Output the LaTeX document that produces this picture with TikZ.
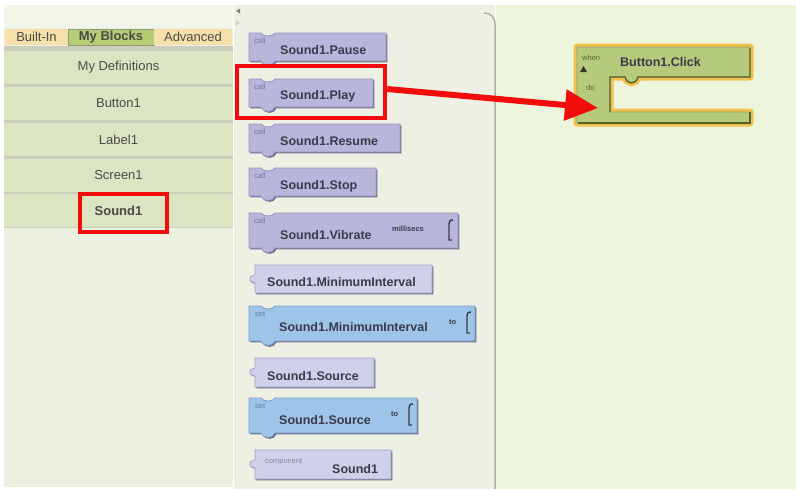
\documentclass[tikz,border=0pt]{standalone}
\usepackage{fontspec}
\setmainfont{Liberation Sans}
\usepackage{tikz}
\usetikzlibrary{arrows.meta}

\definecolor{panelbg}{HTML}{ECF0E1}
\definecolor{panelTop}{HTML}{F2F5EA}
\definecolor{midbg}{HTML}{EDF0E2}
\definecolor{rightbg}{HTML}{EEF5DD}
\definecolor{rowfill}{HTML}{DCE5C1}
\definecolor{rowline}{HTML}{CACEBA}
\definecolor{tabpeach}{HTML}{F5E0AA}
\definecolor{tabgreen}{HTML}{B5CE74}
\definecolor{tabedge}{HTML}{8E9A74}
\definecolor{paneltext}{HTML}{4A4A4A}
\definecolor{callfill}{HTML}{B9B6DC}
\definecolor{callline}{HTML}{9794BE}
\definecolor{calltext}{HTML}{77759C}
\definecolor{getfill}{HTML}{CFD0EA}
\definecolor{getline}{HTML}{A3A4C8}
\definecolor{setfill}{HTML}{9EC4EA}
\definecolor{setline}{HTML}{7A9FC6}
\definecolor{settext}{HTML}{5E82AA}
\definecolor{blkshade}{HTML}{6E6D8C}
\definecolor{blktext}{HTML}{3A3A48}
\definecolor{eventfill}{HTML}{B6CA7B}
\definecolor{eventline}{HTML}{55642D}
\definecolor{glow}{HTML}{F2C14D}
\definecolor{markred}{HTML}{F20C0C}
\definecolor{panelline}{HTML}{AEB2A0}

\newcommand{\stmtshape}[4]{(#1,#2) -- (#1+12,#2) .. controls (#1+14,#2+4) and (#1+24,#2+4) .. (#1+26,#2) -- (#1+#3,#2) -- (#1+#3,#2+#4) -- (#1+26,#2+#4) .. controls (#1+24,#2+#4+6) and (#1+14,#2+#4+6) .. (#1+12,#2+#4) -- (#1,#2+#4) -- cycle}
\newcommand{\getshape}[4]{(#1+6,#2) -- (#1+#3,#2) -- (#1+#3,#2+#4) -- (#1+6,#2+#4) -- (#1+6,#2+18) -- (#1+1,#2+16) -- (#1+1,#2+12) -- (#1+6,#2+10) -- cycle}
\newcommand{\stmtblock}[5]{%
  \fill[blkshadow] \stmtshape{#2}{#3}{#4}{#5};
  \filldraw[#1] \stmtshape{#2}{#3}{#4}{#5};}
\newcommand{\getblock}[4]{%
  \fill[blkshadow] \getshape{#1}{#2}{#3}{#4};
  \filldraw[getblk] \getshape{#1}{#2}{#3}{#4};}
\newcommand{\socket}[3]{\draw[socketline] (#1+4,#2-1) .. controls (#1+1,#2-1) .. (#1,#2+3) -- (#1,#2+#3) -- (#1+3,#2+#3);}

\tikzset{
  callblk/.style={fill=callfill,draw=callline,line width=0.8pt},
  setblk/.style={fill=setfill,draw=setline,line width=0.8pt},
  getblk/.style={fill=getfill,draw=getline,line width=0.8pt},
  blkshadow/.style={fill=blkshade,shift={(1.4,1.4)}},
  socketline/.style={draw=blktext,line width=1.4pt},
  blkname/.style={anchor=west,inner sep=0,text=blktext,font=\bfseries\fontsize{12.5}{14}\selectfont},
  smalllbl/.style={anchor=west,inner sep=0,font=\fontsize{7.5}{8}\selectfont},
  tab/.style={minimum height=16,inner sep=0,text=paneltext,font=\fontsize{13}{14}\selectfont},
  rowbox/.style={fill=rowfill,minimum width=229,minimum height=33,inner sep=0,text=paneltext,font=\fontsize{13}{15}\selectfont},
  markbox/.style={draw=markred,line width=4.5pt,inner sep=0},
  markarrow/.style={draw=markred,line width=6pt,-{Triangle[length=33pt,width=30pt]}}
}

\begin{document}
\begin{tikzpicture}[x=1pt,y=-1pt]
\fill[white] (0,0) rectangle (796,489);
\fill[panelbg] (4,5) rectangle (233,487);
\fill[panelTop] (4,5) rectangle (233,28);
\fill[midbg] (234,5) rectangle (495,489);
\fill[rightbg] (496,5) rectangle (796,489);

\node[tab,fill=tabpeach,minimum width=63] (builtin) at (36.5,37) {Built-In};
\node[tab,fill=tabgreen,draw=tabedge,minimum width=86,font=\bfseries\fontsize{13}{14}\selectfont] (myblocks) at (111,37) {My Blocks};
\node[tab,fill=tabpeach,minimum width=78] (advanced) at (193,37) {Advanced};
\fill[rowline] (4,46) rectangle (233,228);
\foreach \lbl/\y [count=\i] in {My Definitions/51,Button1/87,Label1/123,Screen1/159,\textbf{Sound1}/194}
  \node[rowbox] (row\i) at (118.5,\y+16.5) {\lbl};
\node[markbox,minimum width=87,minimum height=38] (soundmark) at (123.5,213) {};

\draw[panelline,line width=1.5pt] (484,13) .. controls (491,13) and (495,17) .. (495,25) -- (495,489);
\fill[gray] (236,11) -- (240,8.5) -- (240,13.5) -- cycle;
\fill[gray!40] (236,20.5) -- (240,23) -- (236,25.5) -- cycle;

\stmtblock{callblk}{249}{33}{137}{28}
\node[smalllbl,text=calltext] (pausecall) at (254,41) {call};
\node[blkname] (pause) at (280,50) {Sound1.Pause};

\stmtblock{callblk}{249}{79}{124}{28}
\node[smalllbl,text=calltext] (playcall) at (254,87) {call};
\node[blkname] (play) at (280,96) {Sound1.Play};

\stmtblock{callblk}{249}{124}{151}{28}
\node[smalllbl,text=calltext] (resumecall) at (254,132) {call};
\node[blkname] (resume) at (280,141) {Sound1.Resume};

\stmtblock{callblk}{249}{168}{127}{28}
\node[smalllbl,text=calltext] (stopcall) at (254,176) {call};
\node[blkname] (stop) at (280,186) {Sound1.Stop};

\stmtblock{callblk}{249}{213}{209}{35}
\node[smalllbl,text=calltext] (vibcall) at (254,221) {call};
\node[blkname] (vibrate) at (280,235) {Sound1.Vibrate};
\node[smalllbl,text=blktext,font=\bfseries\fontsize{7.5}{8}\selectfont] (millisecs) at (392,229) {millisecs};
\socket{449}{221}{19}

\getblock{249}{265}{183}{28}
\node[blkname] (minget) at (267,282) {Sound1.MinimumInterval};

\stmtblock{setblk}{249}{306}{226}{35}
\node[smalllbl,text=settext] (minset) at (255,314) {set};
\node[blkname] (minsetname) at (279,327) {Sound1.MinimumInterval};
\node[smalllbl,text=blktext,font=\bfseries\fontsize{7.5}{8}\selectfont] (minto) at (449,322) {to};
\socket{467}{313}{20}

\getblock{249}{358}{125}{29}
\node[blkname] (srcget) at (267,376) {Sound1.Source};

\stmtblock{setblk}{249}{398}{168}{35}
\node[smalllbl,text=settext] (srcset) at (255,406) {set};
\node[blkname] (srcsetname) at (279,420) {Sound1.Source};
\node[smalllbl,text=blktext,font=\bfseries\fontsize{7.5}{8}\selectfont] (srcto) at (391,414) {to};
\socket{409}{405}{20}

\getblock{249}{450}{142}{29}
\node[smalllbl,text=getline!80!black] (complbl) at (265,462) {component};
\node[blkname] (compname) at (332,469) {Sound1};

\node[markbox,minimum width=148,minimum height=52] (playbox) at (311,92) {};

\draw[glow,line width=7pt,line join=round] (577,47) -- (750,47) -- (750,77) -- (638,77) .. controls (636,85) and (627,85) .. (625,77) -- (610,77) -- (610,112) -- (750,112) -- (750,123) -- (577,123) -- cycle;
\filldraw[fill=eventfill,draw=eventfill!80!black,line width=0.8pt] (577,47) -- (750,47) -- (750,77) -- (638,77) .. controls (636,85) and (627,85) .. (625,77) -- (610,77) -- (610,112) -- (750,112) -- (750,123) -- (577,123) -- cycle;
\draw[eventline,line width=1.4pt] (750,48) -- (750,77) -- (638,77) .. controls (636,85) and (627,85) .. (625,77) -- (610,77) -- (610,112);
\draw[eventline,line width=1.4pt] (578,123) -- (750,123) -- (750,112);
\node[smalllbl,text=eventline] (when) at (582,58) {when};
\fill[black!80] (580,72) -- (583.5,66) -- (587,72) -- cycle;
\node[smalllbl,text=eventline] (dolbl) at (586,88) {do};
\node[blkname] (click) at (620,62) {Button1.Click};

\coordinate (doslot) at (598,108);
\draw[markarrow] ([yshift=3pt]playbox.east) -- (doslot);
\end{tikzpicture}
\end{document}
